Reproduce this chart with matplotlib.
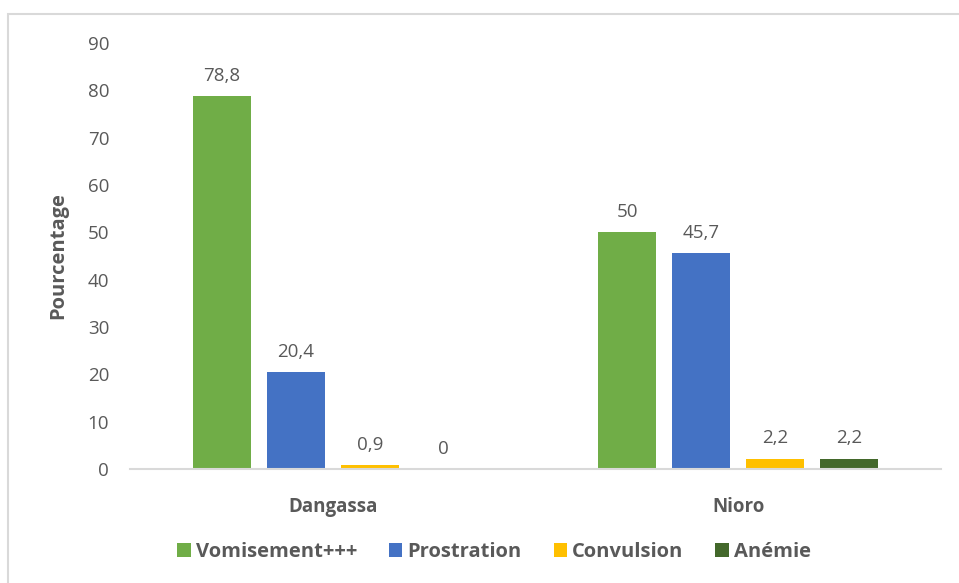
import matplotlib.pyplot as plt
import matplotlib.patches as patches
import numpy as np

plt.rcParams['font.family'] = ['Open Sans', 'DejaVu Sans']

categories = ['Dangassa', 'Nioro']
series = ['Vomisement+++', 'Prostration', 'Convulsion', 'Anémie']
values = [
    [78.8, 50],
    [20.4, 45.7],
    [0.9, 2.2],
    [0, 2.2],
]
labels = [
    ['78,8', '50'],
    ['20,4', '45,7'],
    ['0,9', '2,2'],
    ['0', '2,2'],
]
colors = ['#70AD47', '#4472C4', '#FFC000', '#43682B']
yticks = [0, 10, 20, 30, 40, 50, 60, 70, 80, 90]

grey = '#595959'

fig = plt.figure(figsize=(9.59, 5.83), dpi=100)
ax = fig.add_axes([130/959, 1 - 469/583, (941 - 130)/959, (469 - 43)/583])

# light grey frame of the chart area
fig.patches.append(patches.Rectangle((8/959, -0.1), 1.2, 1 - 14/583 + 0.1,
                                     transform=fig.transFigure, fill=False,
                                     edgecolor='#D9D9D9', linewidth=1.5))

x = np.arange(len(categories))
bw = 58 / 405.5
step = 74 / 405.5
for i, s in enumerate(series):
    pos = x + (i - 1.5) * step
    bars = ax.bar(pos, values[i], width=bw, color=colors[i], label=s)
    for p, v, t in zip(pos, values[i], labels[i]):
        ax.annotate(t, (p, v), xytext=(0, 8), textcoords='offset points',
                    ha='center', va='bottom', fontsize=13.5, color=grey)

ax.set_xlim(-0.5, 1.5)
ax.set_ylim(0, 90)
ax.set_yticks(yticks)
ax.set_yticklabels([str(t) for t in yticks], fontsize=13.5, color=grey)
ax.set_xticks(x)
ax.set_xticklabels(categories, fontsize=13.5, color=grey, fontweight='bold')
ax.tick_params(axis='y', length=0, pad=15)
ax.tick_params(axis='x', length=0, pad=20)
for side in ['top', 'right', 'left']:
    ax.spines[side].set_visible(False)
ax.spines['bottom'].set_color('#D9D9D9')
ax.spines['bottom'].set_linewidth(1.5)

ax.set_ylabel('Pourcentage', fontsize=14.5, color=grey, fontweight='bold', labelpad=14)

leg = fig.legend(loc='center', bbox_to_anchor=(494/959, 1 - 552/583), ncol=4,
                 frameon=False, handlelength=0.65, handleheight=0.65,
                 columnspacing=1.6, handletextpad=0.25,
                 prop={'size': 14.5, 'weight': 'bold'})
for t in leg.get_texts():
    t.set_color(grey)

fig.savefig('out.png', dpi=100)
